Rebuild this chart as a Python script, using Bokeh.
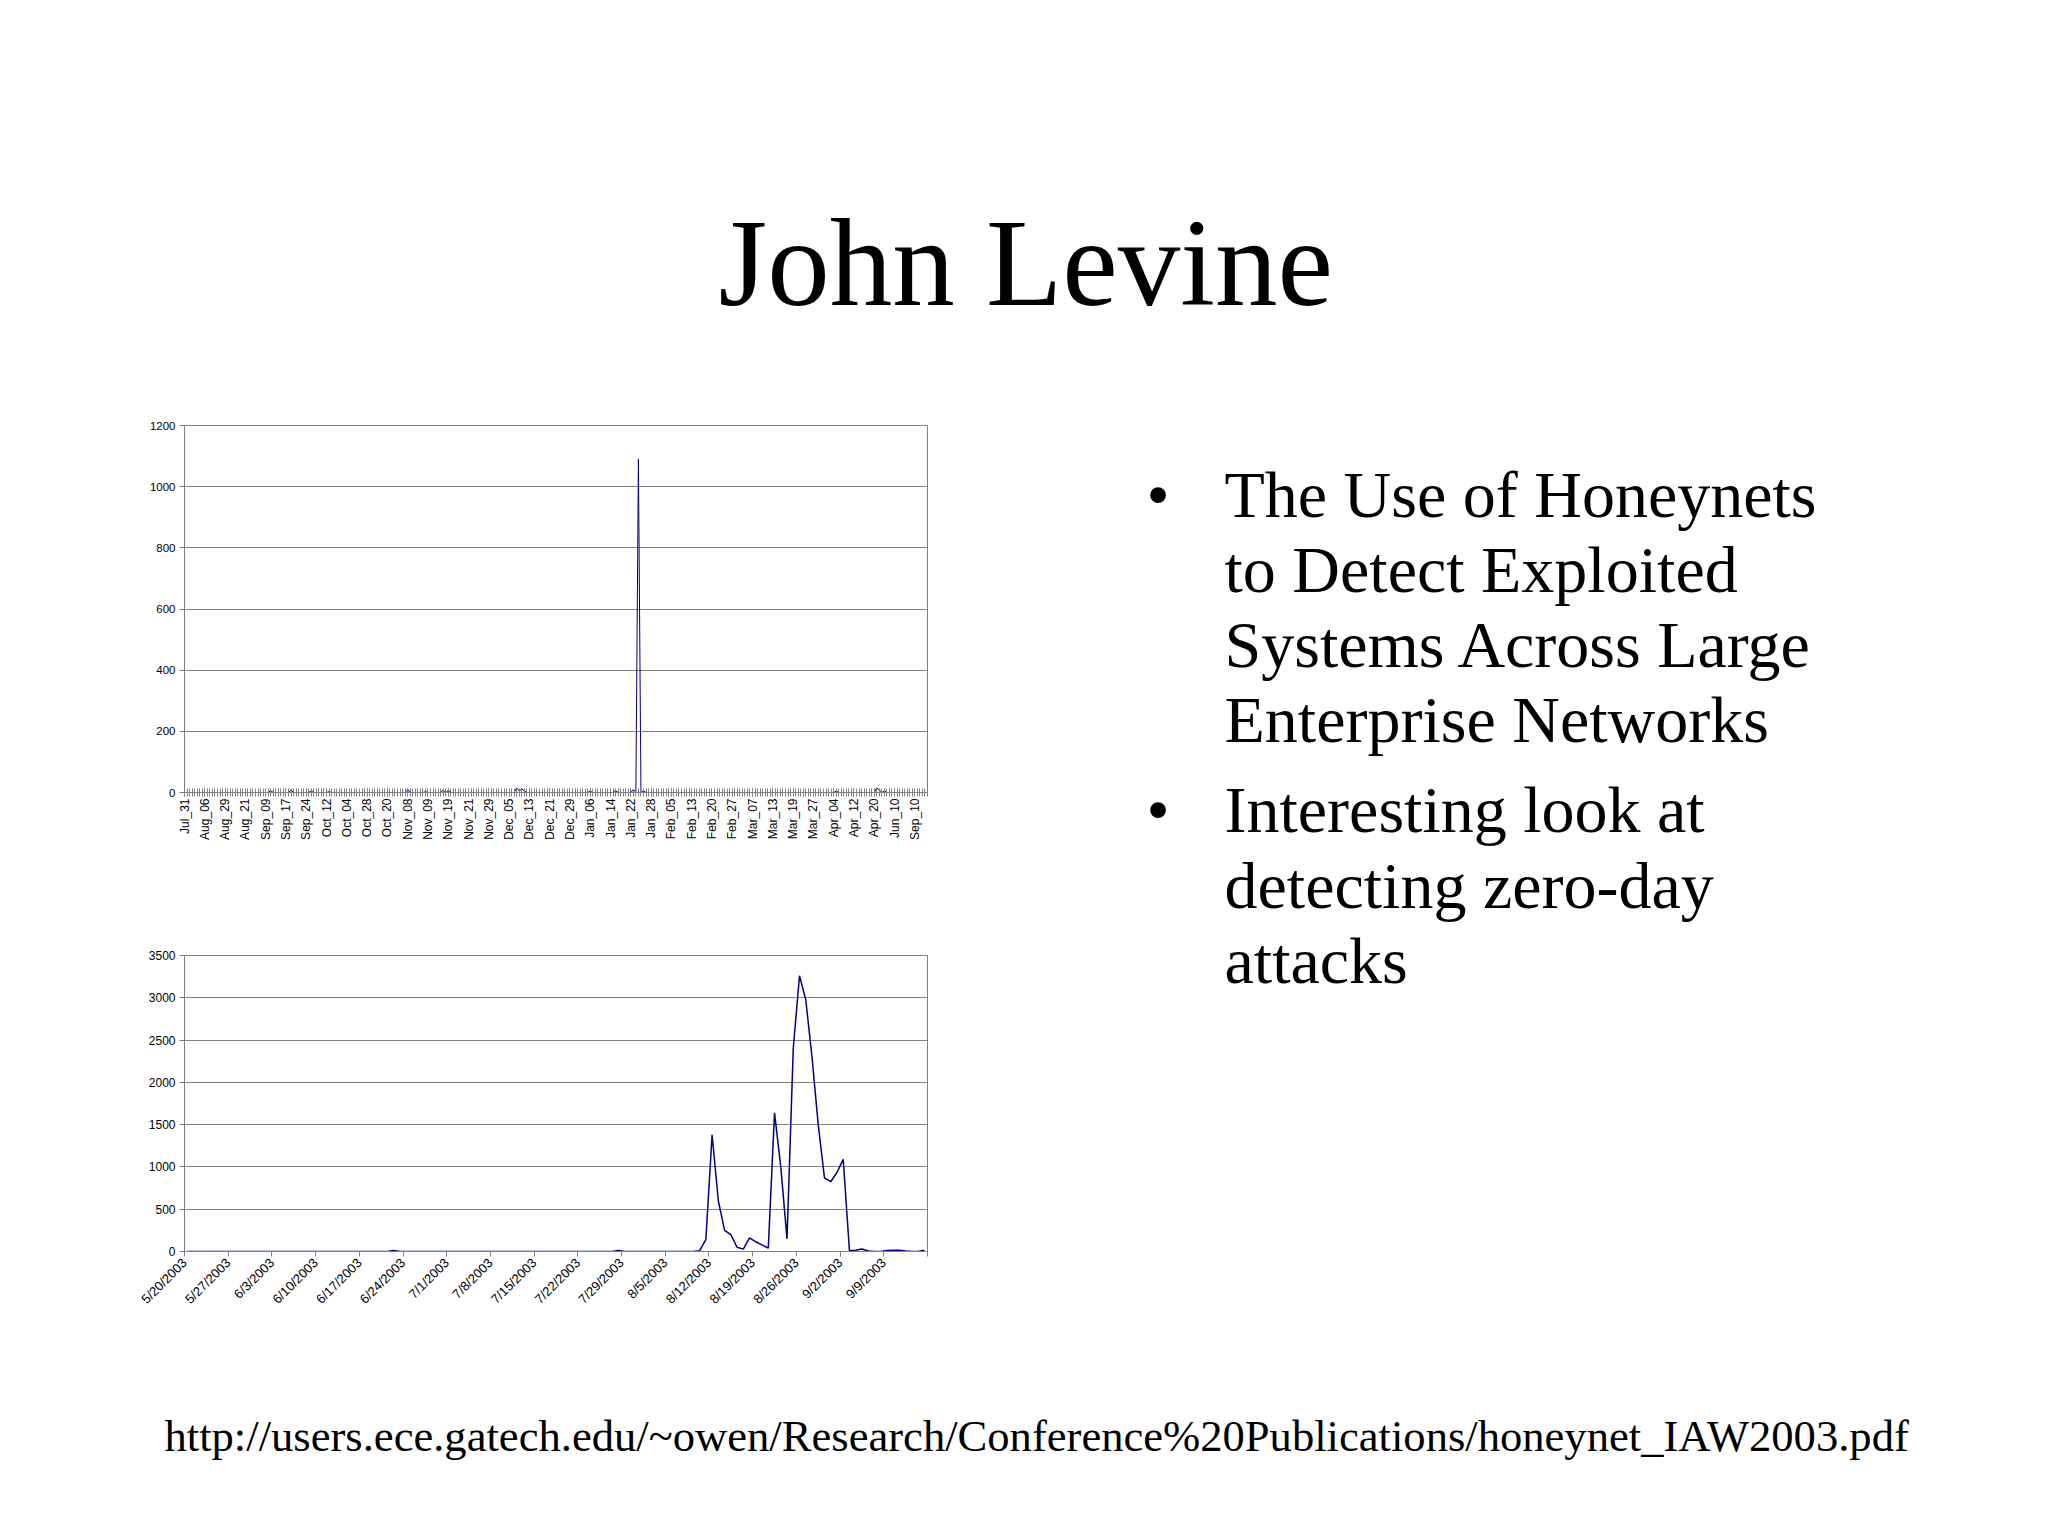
import math
from bokeh.plotting import figure
from bokeh.layouts import column, row
from bokeh.models import Range1d, FixedTicker
from bokeh.core.properties import value
from bokeh.embed import file_html
from bokeh.resources import INLINE

# ---------------- data ----------------
title_text = "John Levine"
bullet_lines = [
    ["The Use of Honeynets", "to Detect Exploited", "Systems Across Large", "Enterprise Networks"],
    ["Interesting look at", "detecting zero-day", "attacks"],
]
url_text = "http://users.ece.gatech.edu/~owen/Research/Conference%20Publications/honeynet_IAW2003.pdf"

top_labels = ["Jul_31", "Aug_06", "Aug_29", "Aug_21", "Sep_09", "Sep_17", "Sep_24", "Oct_12",
              "Oct_04", "Oct_28", "Oct_20", "Nov_08", "Nov_09", "Nov_19", "Nov_21", "Nov_29",
              "Dec_05", "Dec_13", "Dec_21", "Dec_29", "Jan_06", "Jan_14", "Jan_22", "Jan_28",
              "Feb_05", "Feb_13", "Feb_20", "Feb_27", "Mar_07", "Mar_13", "Mar_19", "Mar_27",
              "Apr_04", "Apr_12", "Apr_20", "Jun_10", "Sep_10"]
top_label_step = 8
top_values = [
    0, 0, 0, 0, 0, 0, 0, 0,        # Jul_31
    0, 0, 0, 0, 0, 0, 0, 0,        # Aug_06
    0, 0, 0, 0, 0, 0, 0, 0,        # Aug_29
    0, 0, 0, 0, 0, 0, 0, 0,        # Aug_21
    0, 0, 6, 0, 0, 0, 0, 0,        # Sep_09
    0, 0, 8, 0, 0, 0, 0, 0,        # Sep_17
    0, 0, 5, 0, 0, 0, 0, 0,        # Sep_24
    0, 3, 0, 0, 0, 0, 0, 0,        # Oct_12
    0, 0, 0, 0, 0, 0, 0, 0,        # Oct_04
    0, 0, 0, 0, 0, 0, 0, 0,        # Oct_28
    0, 0, 0, 0, 0, 0, 0, 0,        # Oct_20
    10, 0, 0, 0, 0, 0, 0, 3,       # Nov_08
    0, 0, 0, 0, 0, 0, 8, 0,        # Nov_09
    6, 0, 0, 0, 0, 0, 0, 0,        # Nov_19
    0, 0, 0, 0, 0, 0, 0, 0,        # Nov_21
    0, 0, 0, 0, 0, 0, 0, 0,        # Nov_29
    0, 0, 0, 15, 5, 12, 5, 0,      # Dec_05
    0, 0, 0, 0, 0, 0, 0, 0,        # Dec_13
    0, 0, 0, 0, 0, 0, 0, 0,        # Dec_21
    0, 0, 0, 0, 0, 0, 0, 0,        # Dec_29
    5, 0, 0, 0, 0, 0, 0, 0,        # Jan_06
    0, 0, 5, 0, 0, 0, 0, 0,        # Jan_14
    0, 10, 0, 1090, 0, 6, 0, 0,    # Jan_22
    0, 0, 0, 0, 0, 0, 0, 0,        # Jan_28
    0, 0, 0, 0, 0, 0, 0, 0,        # Feb_05
    0, 0, 0, 0, 0, 0, 0, 0,        # Feb_13
    0, 0, 0, 0, 0, 0, 0, 0,        # Feb_20
    0, 0, 0, 0, 0, 0, 0, 0,        # Feb_27
    0, 0, 0, 0, 0, 0, 0, 0,        # Mar_07
    0, 0, 0, 0, 0, 0, 0, 0,        # Mar_13
    0, 0, 0, 0, 0, 0, 0, 0,        # Mar_19
    0, 0, 0, 0, 0, 0, 0, 0,        # Mar_27
    0, 5, 0, 0, 0, 0, 0, 0,        # Apr_04
    0, 0, 0, 0, 0, 0, 0, 0,        # Apr_12
    0, 15, 8, 0, 5, 0, 0, 0,       # Apr_20
    0, 0, 0, 0, 0, 0, 0, 0,        # Jun_10
    0, 0, 0, 0, 0, 0,              # Sep_10
]
top_yticks = [0, 200, 400, 600, 800, 1000, 1200]

bottom_labels = ["5/20/2003", "5/27/2003", "6/3/2003", "6/10/2003", "6/17/2003", "6/24/2003",
                 "7/1/2003", "7/8/2003", "7/15/2003", "7/22/2003", "7/29/2003", "8/5/2003",
                 "8/12/2003", "8/19/2003", "8/26/2003", "9/2/2003", "9/9/2003", ""]
bottom_label_step = 7
bottom_values = [
    0, 0, 0, 0, 0, 0, 0,           # 5/20
    0, 0, 0, 0, 0, 0, 0,           # 5/27
    0, 0, 0, 0, 0, 0, 0,           # 6/3
    0, 0, 0, 0, 0, 0, 0,           # 6/10
    0, 0, 0, 0, 0, 12, 0,          # 6/17
    0, 0, 0, 0, 0, 0, 0,           # 6/24
    0, 0, 0, 0, 0, 0, 0,           # 7/1
    0, 0, 0, 0, 0, 0, 0,           # 7/8
    0, 0, 0, 0, 0, 0, 0,           # 7/15
    0, 0, 0, 0, 0, 0, 12,          # 7/22
    0, 0, 0, 0, 0, 0, 0,           # 7/29
    0, 0, 0, 0, 0, 10, 140,        # 8/5
    1380, 600, 250, 200, 50, 28, 160,     # 8/12
    115, 78, 40, 1640, 1000, 150, 2400,   # 8/19
    3260, 2980, 2300, 1500, 870, 825, 935,  # 8/26
    1090, 10, 15, 30, 5, 0, 0,     # 9/2
    12, 15, 15, 5, 0, 0, 15,       # 9/9
]
bottom_yticks = [0, 500, 1000, 1500, 2000, 2500, 3000, 3500]

# ---------------- styles ----------------
SERIF = "Liberation Serif"
SANS = "Liberation Sans"
NARROW = "Liberation Sans Narrow, Liberation Sans"
GRAY = "#808080"
NAVY = "#000080"
PAGE_W = 2032
BASE_SHIFT = 0.355  # em offset used to place the alphabetic baseline


def text_canvas(w, h):
    p = figure(width=w, height=h, x_range=Range1d(0, w), y_range=Range1d(h, 0),
               x_axis_type=None, y_axis_type=None, output_backend="svg",
               toolbar_location=None, min_border=0)
    p.outline_line_color = None
    p.grid.visible = False
    p.background_fill_color = "white"
    p.border_fill_color = "white"
    return p


# title
TITLE_SIZE = 125
title_fig = text_canvas(PAGE_W, 400)
title_fig.text(x=[718], y=[307 - BASE_SHIFT * TITLE_SIZE], text=[title_text], text_font=value(SERIF),
               text_font_size=f"{TITLE_SIZE}px", text_color="black",
               text_align="left", text_baseline="alphabetic")

# bullets
BODY_SIZE = 66
text_fig = text_canvas(1024, 970)
line_x = 216
bullet_x = 138
first_base = 117 - BASE_SHIFT * BODY_SIZE
line_gap = 75.3
para_gap = 14.5
bx, by, lx, ly, lt = [], [], [], [], []
yb = first_base
for para in bullet_lines:
    bx.append(bullet_x)
    by.append(yb)
    for ln in para:
        lx.append(line_x)
        ly.append(yb)
        lt.append(ln)
        yb += line_gap
    yb += para_gap
text_fig.text(x=bx, y=by, text=["\u2022"] * len(bx), text_font=value(SERIF),
              text_font_size=f"{BODY_SIZE}px", text_color="black",
              text_align="left", text_baseline="alphabetic")
text_fig.text(x=lx, y=ly, text=lt, text_font=value(SERIF),
              text_font_size=f"{BODY_SIZE}px", text_color="black",
              text_align="left", text_baseline="alphabetic")

# url
URL_SIZE = 44.6
url_fig = text_canvas(PAGE_W, 150)
url_fig.text(x=[164], y=[81 - BASE_SHIFT * URL_SIZE], text=[url_text], text_font=value(SERIF),
             text_font_size=f"{URL_SIZE}px", text_color="black",
             text_align="left", text_baseline="alphabetic")


def style_chart(p):
    p.background_fill_color = "white"
    p.border_fill_color = "white"
    p.outline_line_color = GRAY
    p.outline_line_width = 1
    p.xgrid.visible = False
    p.ygrid.grid_line_color = GRAY
    p.ygrid.grid_line_width = 1
    p.yaxis.axis_line_color = GRAY
    p.yaxis.major_tick_line_color = GRAY
    p.yaxis.major_tick_in = 0
    p.yaxis.major_tick_out = 5
    p.yaxis.minor_tick_line_color = None
    p.yaxis.major_label_text_color = "black"
    p.yaxis.major_label_standoff = 4
    p.xaxis.axis_line_color = GRAY
    p.xaxis.major_tick_line_color = GRAY
    p.xaxis.major_label_text_color = "black"


# top chart
n_top = len(top_values)
top_x = list(range(n_top))
top_tick_pos = [i * top_label_step for i in range(len(top_labels))]
top = figure(width=1008, height=470, x_range=Range1d(0, n_top - 1), y_range=Range1d(0, 1200),
             output_backend="svg", toolbar_location=None,
             min_border_left=184, min_border_right=81, min_border_top=25, min_border_bottom=78)
style_chart(top)
top.line(top_x, top_values, line_color=NAVY, line_width=1)
top.yaxis.ticker = FixedTicker(ticks=top_yticks)
top.yaxis.major_label_text_font = SANS
top.yaxis.major_label_text_font_size = "11.5px"
top.xaxis.ticker = FixedTicker(ticks=top_tick_pos, minor_ticks=top_x)
top.xaxis.major_label_overrides = {pos: lab for pos, lab in zip(top_tick_pos, top_labels)}
top.xaxis.major_label_orientation = math.pi / 2
top.xaxis.major_label_text_font = SANS
top.xaxis.major_label_text_font_size = "12px"
top.xaxis.major_tick_in = 4
top.xaxis.major_tick_out = 4
top.xaxis.minor_tick_in = 4
top.xaxis.minor_tick_out = 4
top.xaxis.minor_tick_line_color = GRAY
top.xaxis.major_label_standoff = 2

# bottom chart
n_bot = len(bottom_values)
bot_x = [i + 0.5 for i in range(n_bot)]
bot_tick_pos = [i * bottom_label_step for i in range(len(bottom_labels))]
bot = figure(width=1008, height=500, x_range=Range1d(0, n_bot), y_range=Range1d(0, 3500),
             output_backend="svg", toolbar_location=None,
             min_border_left=184, min_border_right=81, min_border_top=85, min_border_bottom=119)
style_chart(bot)
bot.line(bot_x, bottom_values, line_color=NAVY, line_width=1.5)
bot.yaxis.ticker = FixedTicker(ticks=bottom_yticks)
bot.yaxis.major_label_text_font = NARROW
bot.yaxis.major_label_text_font_size = "12px"
bot.xaxis.ticker = FixedTicker(ticks=bot_tick_pos)
bot.xaxis.major_label_overrides = {pos: lab for pos, lab in zip(bot_tick_pos, bottom_labels)}
bot.xaxis.major_label_orientation = math.pi / 4
bot.xaxis.major_label_text_font = NARROW
bot.xaxis.major_label_text_font_size = "13px"
bot.xaxis.major_tick_in = 0
bot.xaxis.major_tick_out = 5
bot.xaxis.minor_tick_line_color = None
bot.xaxis.major_label_standoff = 4

layout = column(title_fig, row(column(top, bot), text_fig), url_fig)

with open("out.html", "w") as f:
    f.write(file_html(layout, INLINE))
